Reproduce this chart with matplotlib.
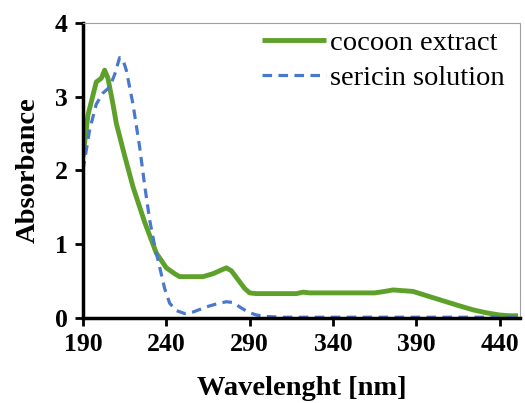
import matplotlib
matplotlib.use("Agg")
import matplotlib.pyplot as plt

# Data
cocoon_x = [190, 193, 198, 201, 203, 205, 208, 210, 215, 220, 227, 234, 240, 245, 248, 255, 262, 268, 272, 276, 279, 283, 287, 290, 294, 300, 310, 318, 322, 326, 335, 345, 355, 365, 371, 376, 382, 388, 395, 405, 415, 424, 432, 440, 446, 451]
cocoon_y = [2.18, 2.75, 3.2, 3.25, 3.36, 3.25, 2.9, 2.64, 2.2, 1.78, 1.3, 0.88, 0.68, 0.6, 0.56, 0.56, 0.56, 0.6, 0.64, 0.68, 0.64, 0.52, 0.4, 0.34, 0.33, 0.33, 0.33, 0.33, 0.35, 0.34, 0.34, 0.34, 0.34, 0.34, 0.36, 0.38, 0.37, 0.36, 0.31, 0.24, 0.17, 0.11, 0.07, 0.04, 0.03, 0.03]

sericin_x = [190, 194, 198, 202, 206, 209, 212, 214, 216, 220, 224, 227, 230, 233, 236, 239, 242, 246, 251, 256, 264, 270, 276, 280, 284, 289, 294, 300, 310, 330, 360, 400, 440, 451]
sericin_y = [2.0, 2.55, 2.9, 3.05, 3.13, 3.3, 3.53, 3.5, 3.36, 2.9, 2.32, 1.8, 1.33, 0.98, 0.69, 0.4, 0.2, 0.1, 0.06, 0.08, 0.15, 0.19, 0.22, 0.21, 0.15, 0.08, 0.04, 0.02, 0.01, 0.01, 0.01, 0.01, 0.01, 0.01]

x_ticks = [190, 240, 290, 340, 390, 440]
y_ticks = [0, 1, 2, 3, 4]

plt.rcParams['font.family'] = ['Liberation Serif', 'DejaVu Serif']

fig = plt.figure(figsize=(5.25, 4.03), dpi=100)
ax = fig.add_axes([0.158, 0.211, 0.832, 0.732])

ax.plot(cocoon_x, cocoon_y, color='#5ea12a', lw=3.5, label='cocoon extract', solid_capstyle='butt')
ax.plot(sericin_x, sericin_y, color='#4a78cc', lw=2.3, ls=(0, (3, 2)), label='sericin solution')

ax.set_xlim(190, 452)
ax.set_ylim(0, 4)
ax.set_xticks(x_ticks)
ax.set_yticks(y_ticks)
for lab in ax.get_xticklabels() + ax.get_yticklabels():
    lab.set_fontweight('bold')
    lab.set_fontsize(18.5)
ax.tick_params(axis='both', direction='out', length=6, width=2, color='black', pad=5)

for s in ['left', 'bottom']:
    ax.spines[s].set_linewidth(2.5)
    ax.spines[s].set_color('black')
for s in ['top', 'right']:
    ax.spines[s].set_linewidth(0.8)
    ax.spines[s].set_color('#a0a0a0')
    ax.spines[s].set_linestyle((0, (1, 1)))

ax.set_xlabel('Wavelenght [nm]', fontsize=20.5, fontweight='bold', labelpad=14.5)
ax.set_ylabel('Absorbance', fontsize=20.5, fontweight='bold', labelpad=10)

leg = ax.legend(loc='upper right', frameon=False, fontsize=20.5, handlelength=2.25,
                handletextpad=0.15, labelspacing=0.3, borderaxespad=0.0,
                borderpad=0.1, bbox_to_anchor=(0.972, 0.985))

fig.savefig('out.png', dpi=100)
